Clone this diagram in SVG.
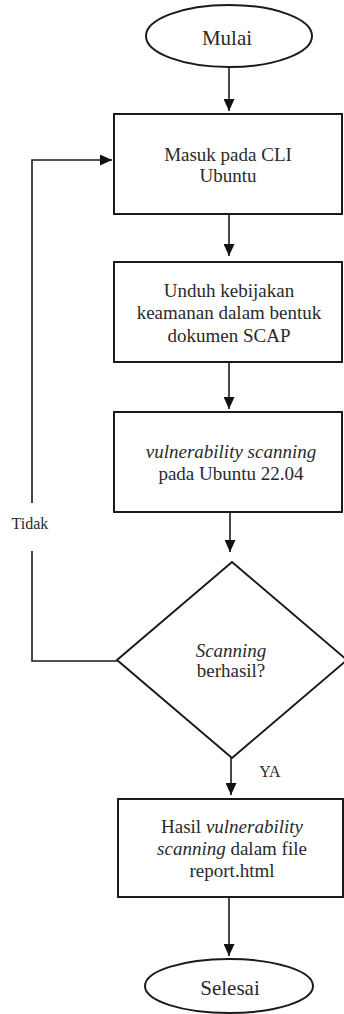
<svg xmlns="http://www.w3.org/2000/svg" width="344" height="1014" viewBox="0 0 344 1014" font-family="'Liberation Serif', 'Times New Roman', serif">
<defs>
<marker id="arr" markerUnits="userSpaceOnUse" markerWidth="12" markerHeight="11" refX="12" refY="5.5" orient="auto">
<path d="M0,0 L12,5.5 L0,11 z" fill="#111"/>
</marker>
<style>
.shape{fill:#fff;stroke:#1a1a1a;stroke-width:2}
.conn{fill:none;stroke:#1a1a1a;stroke-width:1.6}
text{font-family:'Liberation Serif','Times New Roman',serif;fill:#2a2a2a;text-anchor:middle}
.t{font-size:19px}
.e{font-size:21px}
.i{font-style:italic}
.lbl{font-size:16px}
</style>
</defs>
<rect width="344" height="1014" fill="#fff"/>
<g id="connectors">
<line class="conn" x1="229" y1="67" x2="229" y2="111" marker-end="url(#arr)"/>
<line class="conn" x1="229" y1="214" x2="229" y2="256" marker-end="url(#arr)"/>
<line class="conn" x1="229" y1="363" x2="229" y2="409" marker-end="url(#arr)"/>
<line class="conn" x1="230" y1="513" x2="230" y2="552" marker-end="url(#arr)"/>
<line class="conn" x1="231" y1="758" x2="231" y2="795" marker-end="url(#arr)"/>
<line class="conn" x1="229" y1="898" x2="229" y2="956" marker-end="url(#arr)"/>
<path class="conn" d="M117,661 H32 V551"/>
<path class="conn" d="M32,503 V160 H112" marker-end="url(#arr)"/>
<text class="lbl" x="30" y="529">Tidak</text>
<text class="lbl" x="270" y="777">YA</text>
</g>
<g id="mulai">
<ellipse class="shape" cx="229" cy="36" rx="83" ry="31"/>
<text class="e" x="227" y="45">Mulai</text>
</g>
<g id="masuk-cli">
<rect class="shape" x="114" y="114" width="228" height="100"/>
<text class="t" x="228" y="161">Masuk pada CLI</text>
<text class="t" x="228" y="182">Ubuntu</text>
</g>
<g id="unduh-scap">
<rect class="shape" x="114" y="262" width="228" height="100"/>
<text class="t" x="229" y="297">Unduh kebijakan</text>
<text class="t" x="229" y="319">keamanan dalam bentuk</text>
<text class="t" x="229" y="342">dokumen SCAP</text>
</g>
<g id="vuln-scan">
<rect class="shape" x="114" y="412" width="228" height="100"/>
<text class="t i" x="231" y="458">vulnerability scanning</text>
<text class="t" x="231" y="480">pada Ubuntu 22.04</text>
</g>
<g id="decision">
<polygon class="shape" points="232,562 347,660 232,758 117,660"/>
<text class="t i" x="231" y="657">Scanning</text>
<text class="t" x="231" y="677">berhasil?</text>
</g>
<g id="hasil">
<rect class="shape" x="118" y="799" width="225" height="98"/>
<text class="t" x="232" y="833">Hasil <tspan class="i">vulnerability</tspan></text>
<text class="t" x="232" y="855"><tspan class="i">scanning</tspan> dalam file</text>
<text class="t" x="232" y="877">report.html</text>
</g>
<g id="selesai">
<ellipse class="shape" cx="229" cy="986" rx="84" ry="27"/>
<text class="e" x="230" y="995">Selesai</text>
</g>
</svg>
